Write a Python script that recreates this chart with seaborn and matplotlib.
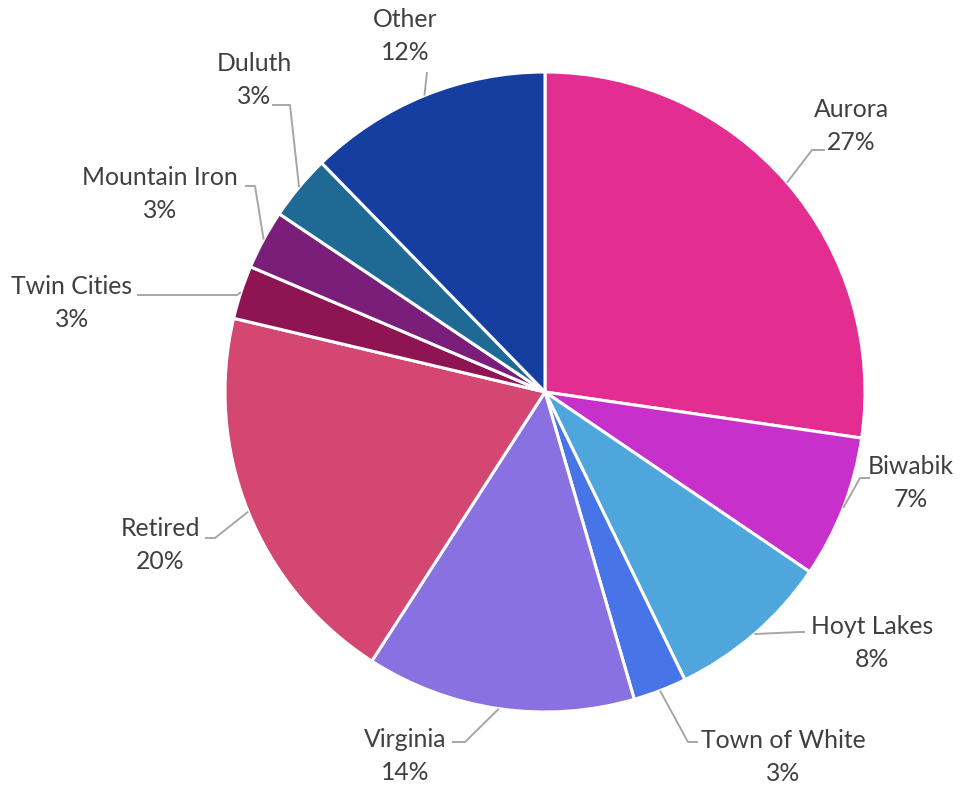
import numpy as np
import matplotlib
matplotlib.use("Agg")
import matplotlib.pyplot as plt
import seaborn as sns

sns.set_theme(style="white")
plt.rcParams['font.family'] = ['Lato', 'DejaVu Sans']

categories = ["Aurora", "Biwabik", "Hoyt Lakes", "Town of White", "Virginia",
              "Retired", "Twin Cities", "Mountain Iron", "Duluth", "Other"]
values = [27.3, 7.2, 8.3, 2.7, 13.6, 19.6, 2.7, 3.0, 3.3, 12.3]
colors = ["#E32D91", "#C830CC", "#4EA6DC", "#4775E7", "#8971E1",
          "#D54773", "#8E1454", "#7A1E7A", "#1F6A94", "#153EA0"]

W, H = 972, 785
CX, CY, R = 545, 392, 320  # pixel layout of the pie

# label layout in pixels: text center, elbow point, line end
label_layout = {
    "Aurora":        ((851, 126), (812, 150), (825, 150)),
    "Biwabik":       ((911, 483), (860, 478), (870, 478)),
    "Hoyt Lakes":    ((872, 643), (800, 632), (805, 632)),
    "Town of White": ((783, 757), (688, 742), (698, 742)),
    "Virginia":      ((405, 756), (465, 742), (452, 742)),
    "Retired":       ((160, 545), (215, 538), (205, 538)),
    "Twin Cities":   ((72, 303),  (237, 295), (137, 295)),
    "Mountain Iron": ((160, 194), (255, 186), (245, 186)),
    "Duluth":        ((254, 80),  (290, 105), (272, 105)),
    "Other":         ((405, 36),  (427, 72),  (427, 72)),
}

fig = plt.figure(figsize=(W / 100, H / 100), dpi=100)
ax = fig.add_axes([0, 0, 1, 1])

def fy(y):
    return H - y

wedges, _ = ax.pie(values, colors=colors, startangle=90, counterclock=False,
                   center=(CX, fy(CY)), radius=R, frame=True,
                   wedgeprops=dict(edgecolor="white", linewidth=2.2))
ax.set_xlim(0, W)
ax.set_ylim(0, H)
ax.set_aspect("equal")
ax.axis("off")

total = sum(values)
cum = 0.0
for cat, v in zip(categories, values):
    mid = (cum + v / 2) / total * 360.0
    cum += v
    sx = CX + R * np.sin(np.radians(mid))
    sy = CY - R * np.cos(np.radians(mid))
    (tx, ty), (ex, ey), (lx, ly) = label_layout[cat]
    ax.plot([sx, ex, lx], [fy(sy), fy(ey), fy(ly)], color="#A6A6A6", lw=1.4,
            solid_capstyle="butt")
    pct = f"{round(v / total * 100):.0f}%"
    ax.text(tx, fy(ty), f"{cat}\n{pct}", ha="center", va="center",
            fontsize=17.8, color="#404040", linespacing=1.5)

fig.savefig("out.png", dpi=100)
